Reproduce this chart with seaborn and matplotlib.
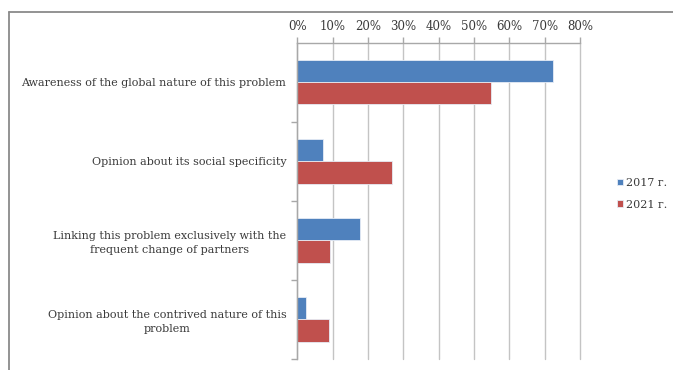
import matplotlib
matplotlib.use("Agg")
import matplotlib.pyplot as plt
from matplotlib.lines import Line2D
from matplotlib.ticker import PercentFormatter, FixedLocator
import seaborn as sns
import pandas as pd

# Survey answers (share of respondents, %)
categories = [
    "Awareness of the global nature of this problem",
    "Opinion about its social specificity",
    "Linking this problem exclusively with the\nfrequent change of partners",
    "Opinion about the contrived nature of this\nproblem",
]
years = ["2017 г.", "2021 г."]
values_2017 = [72.4, 7.2, 17.7, 2.4]
values_2021 = [54.8, 26.8, 9.2, 8.9]
x_ticks = [0, 10, 20, 30, 40, 50, 60, 70, 80]

df = pd.DataFrame({
    "category": categories * 2,
    "year": [years[0]] * 4 + [years[1]] * 4,
    "value": values_2017 + values_2021,
})

sns.set_theme(style="white")
plt.rcParams["font.family"] = ["DejaVu Serif"]

text_color = "#3a3a3a"
grid_color = "#c4c4c4"

fig = plt.figure(figsize=(6.73, 3.70), dpi=100)
ax = fig.add_axes([0.442, 0.030, 0.420, 0.855])

sns.barplot(
    data=df, y="category", x="value", hue="year", orient="h",
    palette=["#4F81BD", "#C0504D"], saturation=1, width=0.565, dodge=True,
    edgecolor="#e6ecf5", linewidth=0.6, ax=ax, legend=True,
)

ax.set_xlim(0, 80)
ax.set_ylim(3.5, -0.5)
ax.xaxis.set_major_locator(FixedLocator(x_ticks))
ax.xaxis.set_major_formatter(PercentFormatter(decimals=0))
ax.xaxis.tick_top()
ax.xaxis.set_label_position("top")
ax.set_xlabel("")
ax.set_ylabel("")

ax.grid(axis="x", color=grid_color, linewidth=1.0)
ax.set_axisbelow(True)
for gl in ax.get_xgridlines():
    gl.set_clip_on(False)
for side in ["right", "bottom"]:
    ax.spines[side].set_visible(False)
for side in ["left", "top"]:
    ax.spines[side].set_color("#a8a8a8")
    ax.spines[side].set_linewidth(1.0)

ax.tick_params(axis="x", which="major", top=True, length=4, width=1.0,
               color="#a8a8a8", pad=3, labelsize=8.5, labelcolor=text_color)

# category labels at centres, tick marks at the boundaries
ax.set_yticks(range(len(categories)))
ax.set_yticklabels(categories)
ax.tick_params(axis="y", which="major", length=0, pad=8, labelsize=8.0,
               labelcolor=text_color)
for lbl in ax.get_yticklabels():
    lbl.set_multialignment("center")
    lbl.set_linespacing(1.45)
ax.yaxis.set_minor_locator(FixedLocator([0.5, 1.5, 2.5, 3.5]))
ax.tick_params(axis="y", which="minor", left=True, length=4, width=1.0,
               color="#a8a8a8")

leg = ax.legend(
    loc="center left", bbox_to_anchor=(0.902, 0.476), bbox_transform=fig.transFigure,
    frameon=False, handlelength=0.55, handleheight=0.55, handletextpad=0.25,
    labelspacing=1.05, fontsize=8.0,
)
for t in leg.get_texts():
    t.set_color(text_color)

# outer frame lines along the top and left edges
fig.add_artist(Line2D([0.0141, 1.0], [0.968, 0.968], transform=fig.transFigure,
                      color="#8a8a8a", linewidth=1.3))
fig.add_artist(Line2D([0.0141, 0.0141], [0.0, 0.968], transform=fig.transFigure,
                      color="#8a8a8a", linewidth=1.3))

fig.savefig("out.png", dpi=100, facecolor="white")
